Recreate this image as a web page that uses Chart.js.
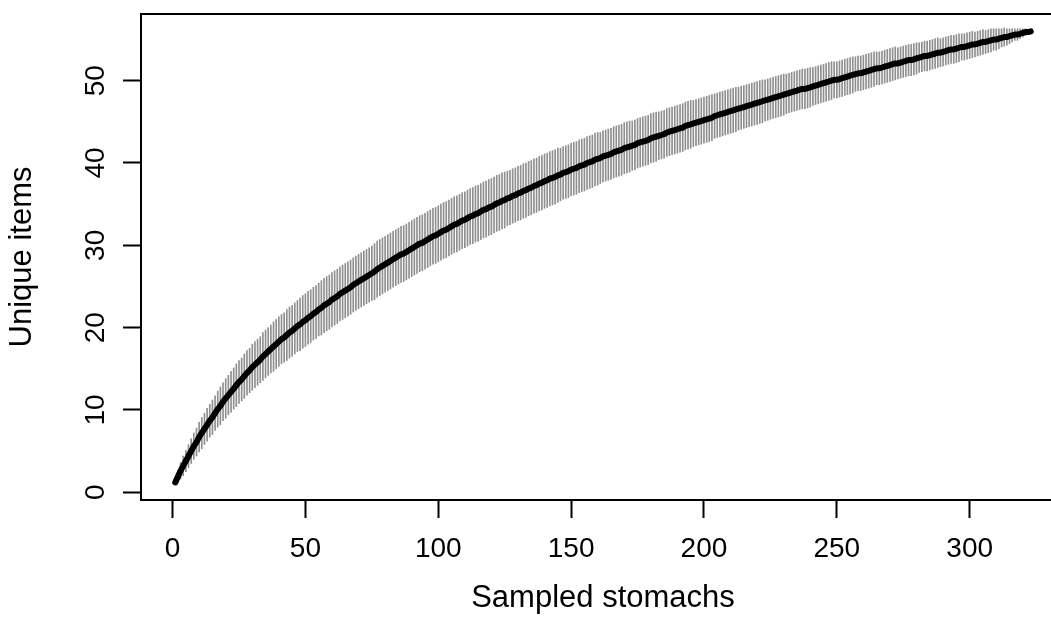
<!DOCTYPE html>
<html><head><meta charset="utf-8">
<script src="https://cdn.jsdelivr.net/npm/chart.js@4/dist/chart.umd.min.js"></script>
<style>html,body{margin:0;padding:0;background:#fff;overflow:hidden;width:1051px;height:635px}</style>
</head><body>
<canvas id="c" width="1070" height="635" style="display:block;width:1070px;height:635px"></canvas>
<script>
// Mean number of unique items for 1..323 sampled stomachs
const uniqueItems = [
1.2,1.9,2.6,3.2,3.8,4.4,5.0,5.6,6.1,6.7,
7.2,7.7,8.2,8.7,9.1,9.6,10.1,10.5,11.0,11.4,
11.8,12.2,12.6,13.0,13.4,13.7,14.1,14.5,14.8,15.2,
15.5,15.8,16.1,16.5,16.8,17.1,17.4,17.7,18.0,18.3,
18.6,18.8,19.1,19.4,19.6,19.9,20.2,20.4,20.7,20.9,
21.2,21.4,21.7,21.9,22.2,22.4,22.7,22.9,23.1,23.4,
23.6,23.8,24.1,24.3,24.5,24.7,24.9,25.2,25.4,25.6,
25.8,26.0,26.2,26.4,26.6,26.8,27.1,27.3,27.5,27.7,
27.9,28.1,28.3,28.5,28.7,28.9,29.0,29.2,29.4,29.6,
29.8,30.0,30.2,30.3,30.5,30.7,30.9,31.1,31.2,31.4,
31.6,31.8,31.9,32.1,32.3,32.5,32.6,32.8,33.0,33.1,
33.3,33.5,33.6,33.8,33.9,34.1,34.3,34.4,34.6,34.7,
34.9,35.1,35.2,35.4,35.5,35.7,35.8,36.0,36.1,36.3,
36.4,36.6,36.7,36.9,37.0,37.2,37.3,37.5,37.6,37.8,
37.9,38.1,38.2,38.3,38.5,38.6,38.8,38.9,39.0,39.2,
39.3,39.4,39.6,39.7,39.8,40.0,40.1,40.2,40.4,40.5,
40.6,40.8,40.9,41.0,41.1,41.3,41.4,41.5,41.6,41.8,
41.9,42.0,42.1,42.2,42.4,42.5,42.6,42.7,42.8,43.0,
43.1,43.2,43.3,43.4,43.5,43.7,43.8,43.9,44.0,44.1,
44.2,44.3,44.5,44.6,44.7,44.8,44.9,45.0,45.1,45.2,
45.3,45.4,45.5,45.7,45.8,45.9,46.0,46.1,46.2,46.3,
46.4,46.5,46.6,46.7,46.8,46.9,47.0,47.1,47.2,47.3,
47.4,47.5,47.6,47.7,47.8,47.9,48.0,48.1,48.2,48.3,
48.4,48.5,48.6,48.7,48.8,48.9,49.0,49.0,49.1,49.2,
49.3,49.4,49.5,49.6,49.7,49.8,49.9,50.0,50.1,50.1,
50.2,50.3,50.4,50.5,50.6,50.7,50.8,50.9,50.9,51.0,
51.1,51.2,51.3,51.4,51.5,51.5,51.6,51.7,51.8,51.9,
52.0,52.1,52.1,52.2,52.3,52.4,52.5,52.5,52.6,52.7,
52.8,52.9,53.0,53.0,53.1,53.2,53.3,53.4,53.4,53.5,
53.6,53.7,53.8,53.8,53.9,54.0,54.1,54.1,54.2,54.3,
54.4,54.4,54.5,54.6,54.7,54.7,54.8,54.9,55.0,55.0,
55.1,55.2,55.3,55.3,55.4,55.5,55.6,55.6,55.7,55.8,
55.9,55.9,56.0
];
// Half-length of the grey error bar at each sample size
const barHalf = [
0.3,0.7,1.0,1.2,1.3,1.4,1.5,1.6,1.7,1.8,
1.9,1.9,2.0,2.0,2.1,2.1,2.2,2.3,2.3,2.4,
2.4,2.5,2.5,2.6,2.6,2.6,2.7,2.7,2.7,2.8,
2.8,2.8,2.8,2.9,2.9,2.9,2.9,3.0,3.0,3.0,
3.0,3.0,3.1,3.1,3.1,3.1,3.1,3.2,3.2,3.2,
3.2,3.2,3.2,3.2,3.2,3.3,3.3,3.3,3.3,3.3,
3.3,3.3,3.3,3.3,3.3,3.3,3.3,3.3,3.3,3.3,
3.3,3.3,3.3,3.3,3.3,3.4,3.4,3.4,3.4,3.4,
3.4,3.4,3.4,3.4,3.4,3.4,3.4,3.4,3.4,3.4,
3.4,3.4,3.4,3.4,3.4,3.4,3.4,3.4,3.4,3.4,
3.4,3.4,3.4,3.4,3.4,3.4,3.4,3.4,3.4,3.4,
3.4,3.4,3.4,3.4,3.4,3.4,3.4,3.4,3.4,3.4,
3.4,3.4,3.4,3.4,3.4,3.3,3.3,3.3,3.3,3.3,
3.3,3.3,3.3,3.3,3.3,3.3,3.3,3.3,3.3,3.3,
3.3,3.3,3.3,3.3,3.3,3.2,3.2,3.2,3.2,3.2,
3.2,3.2,3.2,3.2,3.2,3.2,3.2,3.2,3.2,3.2,
3.1,3.1,3.1,3.1,3.1,3.1,3.1,3.1,3.1,3.1,
3.1,3.1,3.0,3.0,3.0,3.0,3.0,3.0,3.0,3.0,
3.0,3.0,2.9,2.9,2.9,2.9,2.9,2.9,2.9,2.9,
2.9,2.9,2.9,2.9,2.9,2.8,2.8,2.8,2.8,2.8,
2.8,2.8,2.8,2.7,2.7,2.7,2.7,2.7,2.7,2.7,
2.7,2.7,2.6,2.6,2.6,2.6,2.6,2.6,2.6,2.6,
2.6,2.6,2.5,2.5,2.5,2.5,2.5,2.5,2.5,2.5,
2.4,2.4,2.4,2.4,2.4,2.4,2.4,2.4,2.4,2.4,
2.3,2.3,2.3,2.3,2.3,2.3,2.3,2.3,2.2,2.2,
2.2,2.2,2.2,2.2,2.2,2.2,2.1,2.1,2.1,2.1,
2.1,2.1,2.1,2.1,2.0,2.0,2.0,2.0,2.0,2.0,
2.0,2.0,1.9,1.9,1.9,1.9,1.9,1.9,1.9,1.9,
1.8,1.8,1.8,1.8,1.8,1.8,1.8,1.8,1.7,1.7,
1.7,1.7,1.7,1.7,1.7,1.7,1.6,1.6,1.6,1.6,
1.6,1.5,1.5,1.5,1.5,1.4,1.4,1.4,1.3,1.3,
1.2,1.1,1.1,1.0,0.9,0.8,0.7,0.7,0.6,0.5,
0.4,0.3,0.0
];
// Sample sizes (categories): 1, 2, ..., 323
const sampledStomachs = uniqueItems.map((_, i) => i + 1);
const xTickValues = [0, 50, 100, 150, 200, 250, 300];
const yTickValues = [0, 10, 20, 30, 40, 50];
const xTitle = 'Sampled stomachs';
const yTitle = 'Unique items';

const FONT = "'Liberation Sans', Arial, Helvetica, sans-serif";

const boxPlugin = {
  id: 'box',
  afterDatasetsDraw(chart) {
    const a = chart.chartArea, ctx = chart.ctx;
    ctx.save();
    ctx.strokeStyle = '#000';
    ctx.lineWidth = 2;
    ctx.strokeRect(a.left, a.top, a.right - a.left, a.bottom - a.top);
    ctx.restore();
  }
};

function noPad(s) { s.paddingTop = 0; s.paddingBottom = 0; s.paddingLeft = 0; s.paddingRight = 0; }

new Chart(document.getElementById('c'), {
  type: 'bar',
  data: {
    datasets: [
      {
        type: 'line',
        order: 0,
        data: sampledStomachs.map((x, i) => ({x: x, y: uniqueItems[i]})),
        borderColor: '#000',
        borderWidth: 6,
        borderCapStyle: 'round',
        borderJoinStyle: 'round',
        pointRadius: 0,
        tension: 0,
        fill: false
      },
      {
        type: 'bar',
        order: 1,
        data: sampledStomachs.map((x, i) => ({x: x, y: [uniqueItems[i] - barHalf[i], uniqueItems[i] + barHalf[i]]})),
        backgroundColor: '#8f8f8f',
        borderWidth: 0,
        barThickness: 1,
        grouped: false
      }
    ]
  },
  options: {
    responsive: false,
    animation: false,
    devicePixelRatio: 1,
    layout: {padding: {top: 14, right: 5, bottom: 0, left: 0}},
    plugins: {legend: {display: false}, tooltip: {enabled: false}},
    scales: {
      x: {
        type: 'linear',
        offset: false,
        min: -11.88,
        max: 335.88,
        afterBuildTicks: s => { s.ticks = xTickValues.map(v => ({value: v})); },
        afterFit: s => { s.height = 135; noPad(s); },
        border: {display: false},
        grid: {offset: false, drawOnChartArea: false, drawTicks: true, tickLength: 18, tickWidth: 2, tickColor: '#000'},
        ticks: {autoSkip: false, maxRotation: 0, minRotation: 0, padding: 14, color: '#000', font: {family: FONT, size: 28}},
        title: {display: true, text: xTitle, color: '#000', font: {family: FONT, size: 31}, padding: {top: 0, bottom: 18}}
      },
      y: {
        type: 'linear',
        min: -0.94,
        max: 58.1,
        afterBuildTicks: s => { s.ticks = yTickValues.map(v => ({value: v})); },
        afterFit: s => { s.width = 141; noPad(s); },
        border: {display: false},
        grid: {drawOnChartArea: false, drawTicks: true, tickLength: 18, tickWidth: 2, tickColor: '#000'},
        ticks: {autoSkip: false, minRotation: 90, maxRotation: 90, crossAlign: 'center', padding: 11, color: '#000', font: {family: FONT, size: 28}},
        title: {display: true, text: yTitle, color: '#000', font: {family: FONT, size: 31}, padding: {top: 4, bottom: 0}}
      }
    }
  },
  plugins: [boxPlugin]
});
</script>
</body></html>
